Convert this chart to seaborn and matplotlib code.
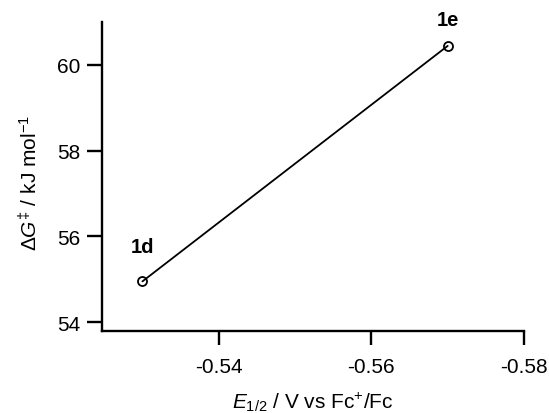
import matplotlib
matplotlib.use("Agg")
import matplotlib.pyplot as plt
import seaborn as sns
import pandas as pd

compounds = ["1d", "1e"]
e_half = [-0.530, -0.570]
delta_g = [54.95, 60.44]
x_ticks = [-0.54, -0.56, -0.58]
y_ticks = [54, 56, 58, 60]

sns.set_theme(style="ticks")
plt.rcParams["font.family"] = ["Liberation Sans", "DejaVu Sans"]
plt.rcParams["mathtext.fontset"] = "custom"
plt.rcParams["mathtext.rm"] = "Liberation Sans"
plt.rcParams["mathtext.it"] = "Liberation Sans:italic"
plt.rcParams["mathtext.bf"] = "Liberation Sans:bold"
for k in ["text.color", "axes.labelcolor", "xtick.color", "ytick.color", "axes.edgecolor"]:
    plt.rcParams[k] = "black"

df = pd.DataFrame({"compound": compounds, "E": e_half, "G": delta_g})

fig = plt.figure(figsize=(5.49, 4.14), dpi=100)
left, right, top, bottom = 102 / 549, 524 / 549, 1 - 23.3 / 414, 1 - 331.7 / 414
ax = fig.add_axes([left, bottom, right - left, top - bottom])

sns.lineplot(data=df, x="E", y="G", ax=ax, color="black", linewidth=1.3,
             marker="o", markersize=6.5, markerfacecolor="none",
             markeredgecolor="black", markeredgewidth=1.3, sort=False)

label_offsets = [25, 18.7]
for (_, r), off in zip(df.iterrows(), label_offsets):
    ax.annotate(r["compound"], (r["E"], r["G"]), xytext=(0, off),
                textcoords="offset points", ha="center", va="center",
                fontsize=14.5, fontweight="bold")

ax.set_xlim(-0.5247, -0.58)
ax.set_ylim(53.80, 60.99)
ax.set_xticks(x_ticks)
ax.set_xticklabels([f"{v:.2f}" for v in x_ticks])
ax.set_yticks(y_ticks)
ax.set_yticklabels([str(v) for v in y_ticks])

for s in ["top", "right"]:
    ax.spines[s].set_visible(False)
for s in ["left", "bottom"]:
    ax.spines[s].set_linewidth(1.7)
    ax.spines[s].set_color("black")
ax.tick_params(axis="x", direction="out", length=10, width=1.7, pad=9,
               labelsize=15, colors="black")
ax.tick_params(axis="y", direction="out", length=10.5, width=1.7, pad=5,
               labelsize=15, colors="black")

ax.set_xlabel(r"$E_{1/2}$ / V vs Fc$^{+}$/Fc", fontsize=15, va="center")
ax.set_ylabel(r"$\Delta G^{\ddag}$ / kJ mol$^{-1}$", fontsize=15, va="center")
ax.xaxis.set_label_coords(0.5, -0.228)
ax.yaxis.set_label_coords(-0.171, 0.482)

fig.savefig("out.png", dpi=100)
